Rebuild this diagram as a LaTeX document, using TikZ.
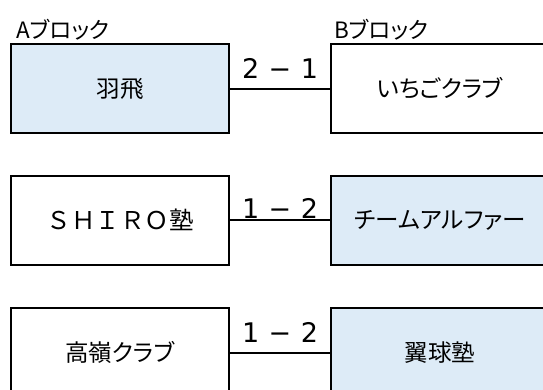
\documentclass[tikz,border=0pt]{standalone}
\usepackage{fontspec}
\setmainfont{Noto Sans CJK JP}
\newfontfamily\jpp[RawFeature=+palt]{Noto Sans CJK JP}
\newfontfamily\scorefont{DejaVu Sans}
\definecolor{teamblue}{HTML}{DDEBF7}
\begin{document}
\begin{tikzpicture}[x=1pt,y=-1pt,
  teambox/.style={draw=black, line width=2pt, rectangle, inner sep=0pt,
    minimum width=218pt, minimum height=89pt, fill=white,
    font=\fontsize{23.5}{27}\selectfont\jpp, text=black},
  winner/.style={teambox, fill=teamblue},
  blocklabel/.style={anchor=base west, inner sep=0pt,
    font=\fontsize{22.5}{26}\selectfont\jpp, text=black},
  score/.style={anchor=base, inner sep=0pt,
    font=\fontsize{27}{30}\scorefont, text=black},
  link/.style={line width=2pt}]
\useasboundingbox (0,0) rectangle (543,389);
\clip (0,0) rectangle (543,389);
% block labels
\node[blocklabel] (la) at (16,38) {Aブロック};
\node[blocklabel] (lb) at (334,38) {Bブロック};
% row 1
\node[winner]  (a1) at (120,88.5) {羽飛};
\node[teambox] (b1) at (440,88.5) {いちごクラブ};
\draw[link] (a1.east) -- (b1.west);
\node[score] (s1) at (280,78) {2\hspace{0.35em}−\hspace{0.35em}1};
% row 2
\node[teambox] (a2) at (120,220) {{\fontsize{24.5}{27}\selectfont\rmfamily ＳＨＩＲＯ塾}};
\node[winner]  (b2) at (440,220) {チームアルファー};
\draw[link] (a2.east) -- (b2.west);
\node[score] (s2) at (280,218) {1\hspace{0.35em}−\hspace{0.35em}2};
% row 3
\node[teambox] (a3) at (120,352.5) {高嶺クラブ};
\node[winner]  (b3) at (440,352.5) {翼球塾};
\draw[link] (a3.east) -- (b3.west);
\node[score] (s3) at (280,342) {1\hspace{0.35em}−\hspace{0.35em}2};
\end{tikzpicture}
\end{document}
